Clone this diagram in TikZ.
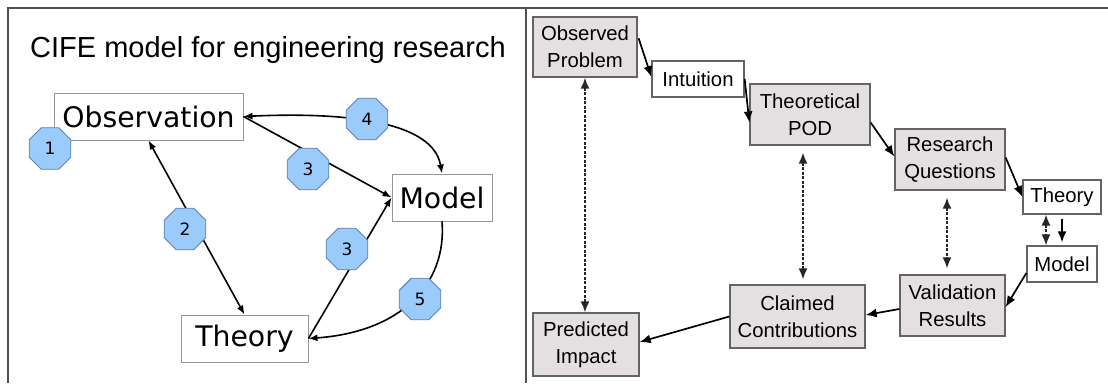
\documentclass[tikz,border=0pt]{standalone}
\usepackage{fontspec}
\setmainfont{Liberation Sans}
\newfontfamily\dvs{DejaVu Sans}
\usetikzlibrary{arrows.meta,shapes.geometric}
\definecolor{octfill}{RGB}{155,203,250}
\definecolor{octline}{RGB}{95,130,175}
\definecolor{boxfill}{RGB}{228,224,226}
\definecolor{boxline}{RGB}{100,100,100}
\definecolor{leftline}{RGB}{150,150,150}
\definecolor{frameline}{RGB}{80,80,80}
\tikzset{
  frame/.style={draw=frameline,line width=1.4pt},
  cbox/.style={draw=leftline,line width=0.9pt,fill=white,inner sep=0pt,
    font=\dvs\fontsize{28.3}{30}\selectfont},
  octo/.style={regular polygon,regular polygon sides=8,minimum size=45pt,
    inner sep=0pt,fill=octfill,draw=octline,line width=0.9pt,
    font=\dvs\fontsize{17}{19}\selectfont},
  cline/.style={draw=black,line width=1.6pt,-{Latex[length=9pt,width=7pt]}},
  cboth/.style={cline,{Latex[length=9pt,width=7pt]}-{Latex[length=9pt,width=7pt]}},
  gbox/.style={draw=boxline,line width=1.3pt,fill=boxfill,inner sep=0pt,align=center,
    font=\fontsize{20.3}{27}\selectfont},
  wbox/.style={gbox,fill=white},
  flow/.style={draw=black,line width=1.7pt,-{Latex[length=11pt,width=9pt]}},
  link/.style={draw=black!85,line width=1.7pt,dash pattern=on 3pt off 1.5pt,
    {Latex[length=11pt,width=9pt]}-{Latex[length=11pt,width=9pt]}},
}
\begin{document}
\begin{tikzpicture}[x=1pt,y=-1pt]
\useasboundingbox (0,0) rectangle (1108,383);
\fill[white] (0,0) rectangle (1108,383);

% panel frames
\draw[frame] (8,383) -- (8,8) -- (1108,8);
\draw[frame] (526,8) -- (526,383);

% ---- left panel: CIFE model ----
\node[anchor=base west,inner sep=0pt,font=\fontsize{29}{32}\selectfont] (title) at (30,57)
  {CIFE model for engineering research};

\node[cbox,minimum width=189pt,minimum height=47pt] (obs) at (148.5,116.5) {Observation};
\node[cbox,minimum width=100pt,minimum height=47pt] (model) at (442,197.5) {Model};
\node[cbox,minimum width=127pt,minimum height=47pt] (theory) at (244.5,338.5) {Theory};

\draw[cboth] (obs.east) .. controls (320,113) and (432,115) .. (model.north);
\draw[cline] (obs.east) -- (model.west);
\draw[cboth] (obs.south) -- (theory.north);
\draw[cline] (theory.east) -- (model.west);
\draw[cline] (model.south) .. controls (447,285) and (400,332) .. (theory.east);

\node[octo] (o1) at (50,148.5) {1};
\node[octo] (o2) at (185,229) {2};
\node[octo] (o3a) at (308,169) {3};
\node[octo] (o3b) at (347,249) {3};
\node[octo] (o4) at (367,119) {4};
\node[octo] (o5) at (420,299) {5};

% ---- right panel: research process ----
\node[gbox,minimum width=104pt,minimum height=60pt] (op) at (585,47) {Observed\\Problem};
\node[wbox,minimum width=92pt,minimum height=36pt] (intu) at (698,79) {Intuition};
\node[gbox,minimum width=120pt,minimum height=61pt] (pod) at (810,114.5) {Theoretical\\POD};
\node[gbox,minimum width=110pt,minimum height=61pt] (rq) at (950,159.5) {Research\\Questions};
\node[wbox,minimum width=78pt,minimum height=34pt] (thr) at (1062,197) {Theory};
\node[wbox,minimum width=70pt,minimum height=36pt] (mdl) at (1062,264) {Model};
\node[gbox,minimum width=105pt,minimum height=61pt] (vr) at (952.5,305.5) {Validation\\Results};
\node[gbox,minimum width=135pt,minimum height=63pt] (cc) at (797.5,316.5) {Claimed\\Contributions};
\node[gbox,minimum width=106pt,minimum height=63pt] (pi) at (586,344.5) {Predicted\\Impact};

\draw[flow] ([shift={(1,22)}]op.north east) -- ([shift={(0,-2)}]intu.west);
\draw[flow] (intu.east) -- ([shift={(0,8)}]pod.west);
\draw[flow] ([shift={(0,8)}]pod.east) -- ([shift={(0,-3)}]rq.west);
\draw[flow] ([shift={(0,-2)}]rq.east) -- (thr.west);
\draw[flow,shorten <=4pt,shorten >=3pt] (thr.south) -- (mdl.north);
\draw[flow] ([shift={(0,9)}]mdl.west) -- ([shift={(0,1.5)}]vr.east);
\draw[flow] ([shift={(0,3.5)}]vr.west) -- ([shift={(0,-1.5)}]cc.east);
\draw[flow] (cc.west) -- ([shift={(0,-2.5)}]pi.east);

\draw[link] (op.south) -- ([shift={(-1,0)}]pi.north);
\draw[link,shorten <=7pt,shorten >=5pt] ([shift={(-7,0)}]pod.south) -- ([shift={(5.5,0)}]cc.north);
\draw[link,shorten <=7pt,shorten >=6pt] ([shift={(-3,0)}]rq.south) -- ([shift={(-5.5,0)}]vr.north);
\draw[link,line width=1.4pt] ([shift={(-16,0)}]thr.south) -- ([shift={(-16,0)}]mdl.north);
\end{tikzpicture}
\end{document}
